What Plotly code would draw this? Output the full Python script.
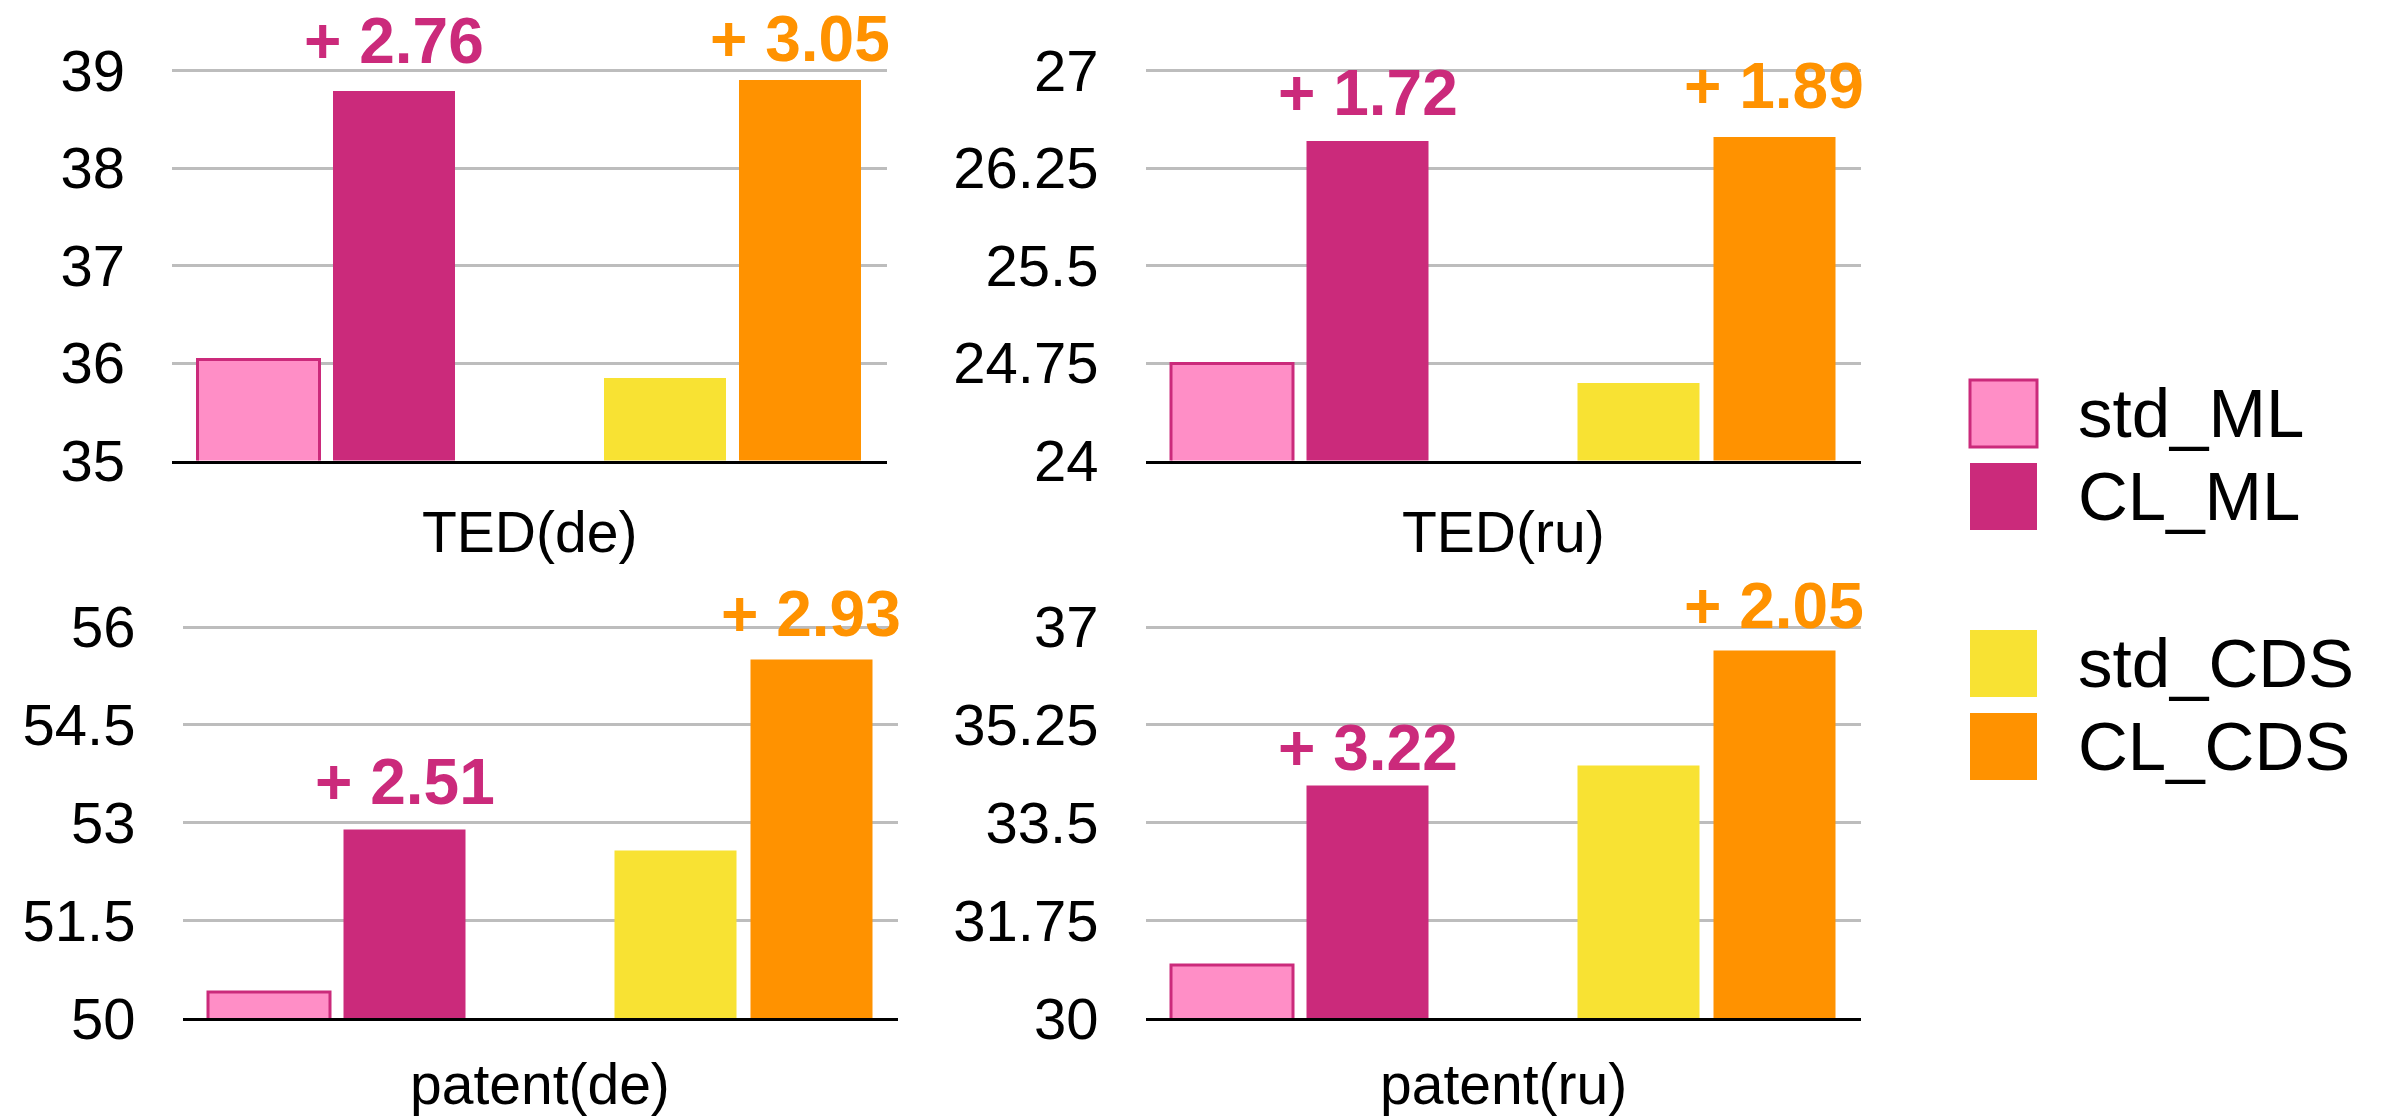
import plotly.graph_objects as go

# Benchmark results per test set
datasets = ["TED(de)", "TED(ru)", "patent(de)", "patent(ru)"]
series = ["std_ML", "CL_ML", "std_CDS", "CL_CDS"]

std_ml = [36.03, 24.74, 50.39, 30.95]
gain_ml = [2.76, 1.72, 2.51, 3.22]
std_cds = [35.85, 24.60, 52.58, 34.53]
gain_cds = [3.05, 1.89, 2.93, 2.05]

cl_ml = [round(s + g, 2) for s, g in zip(std_ml, gain_ml)]
cl_cds = [round(s + g, 2) for s, g in zip(std_cds, gain_cds)]

y_ticks = [
    [35, 36, 37, 38, 39],
    [24, 24.75, 25.5, 26.25, 27],
    [50, 51.5, 53, 54.5, 56],
    [30, 31.75, 33.5, 35.25, 37],
]

# Bar slots inside each panel (slot 2 is left empty between the two pairs)
bar_slots = [0, 1, 3, 4]

fill_colors = ["#FF8EC6", "#CB2A7B", "#F8E233", "#FF9200"]
edge_colors = ["#CB2A7B", "#CB2A7B", "#F8E233", "#FF9200"]
edge_widths = [3, 0, 0, 0]
gain_colors = ["#CB2A7B", "#FF9200"]

W, H = 2381, 1117
FONT = "Liberation Sans, Arial, Helvetica, sans-serif"

# Panel rectangles in pixels: (left, right, top, bottom)
panels_px = [
    (172, 887, 68.9, 460.6),
    (1145.5, 1861, 68.9, 460.6),
    (182.5, 898, 625.5, 1018.3),
    (1145.5, 1861, 625.5, 1018.3),
]
# Vertical lift (px) of each gain label above its bar: (ML, CDS) per panel
label_lift = [(12, 3), (10, 13), (9, 7), (-1, 7)]
# Gap (px) between panel bottom and the dataset name
name_drop = [37, 37, 32, 32]

fig = go.Figure()
annotations = []
shapes = []

for i, name in enumerate(datasets):
    sfx = "" if i == 0 else str(i + 1)
    xa, ya = "x" + sfx, "y" + sfx
    left, right, top, bottom = panels_px[i]
    values = [std_ml[i], cl_ml[i], std_cds[i], cl_cds[i]]

    fig.add_trace(go.Bar(
        x=bar_slots, y=values, width=0.9,
        marker=dict(color=fill_colors, line=dict(color=edge_colors, width=edge_widths)),
        xaxis=xa, yaxis=ya, showlegend=False, hoverinfo="skip",
    ))

    ticks = y_ticks[i]
    span = ticks[-1] - ticks[0]
    fig.layout["xaxis" + sfx] = dict(
        domain=[left / W, right / W], anchor=ya,
        range=[-0.64, 4.64], showticklabels=False, showgrid=False,
        zeroline=False, showline=True, linecolor="black", linewidth=3,
        fixedrange=True, automargin=False,
    )
    fig.layout["yaxis" + sfx] = dict(
        domain=[1 - bottom / H, 1 - top / H], anchor=xa,
        # a hair of headroom so the top gridline is still drawn
        range=[ticks[0], ticks[-1] + span * 0.004], tickvals=ticks,
        ticktext=[f"{t:g}" for t in ticks],
        showgrid=True, gridcolor="#BDBDBD", gridwidth=2.5,
        zeroline=False, showline=False, ticks="",
        ticklabelstandoff=46,
        tickfont=dict(family=FONT, size=58, color="black"),
        fixedrange=True, automargin=False,
    )

    # Dataset name under each panel
    annotations.append(dict(
        xref=xa + " domain", yref=ya + " domain", x=0.5, y=0,
        xanchor="center", yanchor="top", yshift=-name_drop[i], showarrow=False,
        text=name, font=dict(family=FONT, size=57, color="black"),
    ))

    # Gain labels above the CL bars
    for slot, cl, g, col, lift in [
        (bar_slots[1], cl_ml[i], gain_ml[i], gain_colors[0], label_lift[i][0]),
        (bar_slots[3], cl_cds[i], gain_cds[i], gain_colors[1], label_lift[i][1]),
    ]:
        annotations.append(dict(
            xref=xa, yref=ya, x=slot, y=cl, xanchor="center", yanchor="bottom",
            yshift=lift, showarrow=False, text=f"<b>+ {g:.2f}</b>",
            font=dict(family=FONT, size=64, color=col),
        ))

# Legend: swatches with labels, two groups
legend_rows = [(380, series[0]), (463, series[1]), (630, series[2]), (713, series[3])]
sw = 67
for k, (ytop, label) in enumerate(legend_rows):
    shapes.append(dict(
        type="rect", xref="paper", yref="paper",
        x0=1970 / W, x1=(1970 + sw) / W, y0=1 - (ytop + sw) / H, y1=1 - ytop / H,
        fillcolor=fill_colors[k],
        line=dict(color=edge_colors[k], width=edge_widths[k] if edge_widths[k] else 0),
    ))
    annotations.append(dict(
        xref="paper", yref="paper", x=2076 / W, y=1 - (ytop + sw / 2) / H,
        xanchor="left", yanchor="middle", showarrow=False, text=label,
        font=dict(family=FONT, size=69, color="black"),
    ))

fig.update_layout(
    width=W, height=H,
    margin=dict(l=0, r=0, t=0, b=0, autoexpand=False),
    paper_bgcolor="white", plot_bgcolor="white",
    annotations=annotations, shapes=shapes,
    showlegend=False, bargap=0,
)

fig.write_html("out.html", config={"displayModeBar": False})
